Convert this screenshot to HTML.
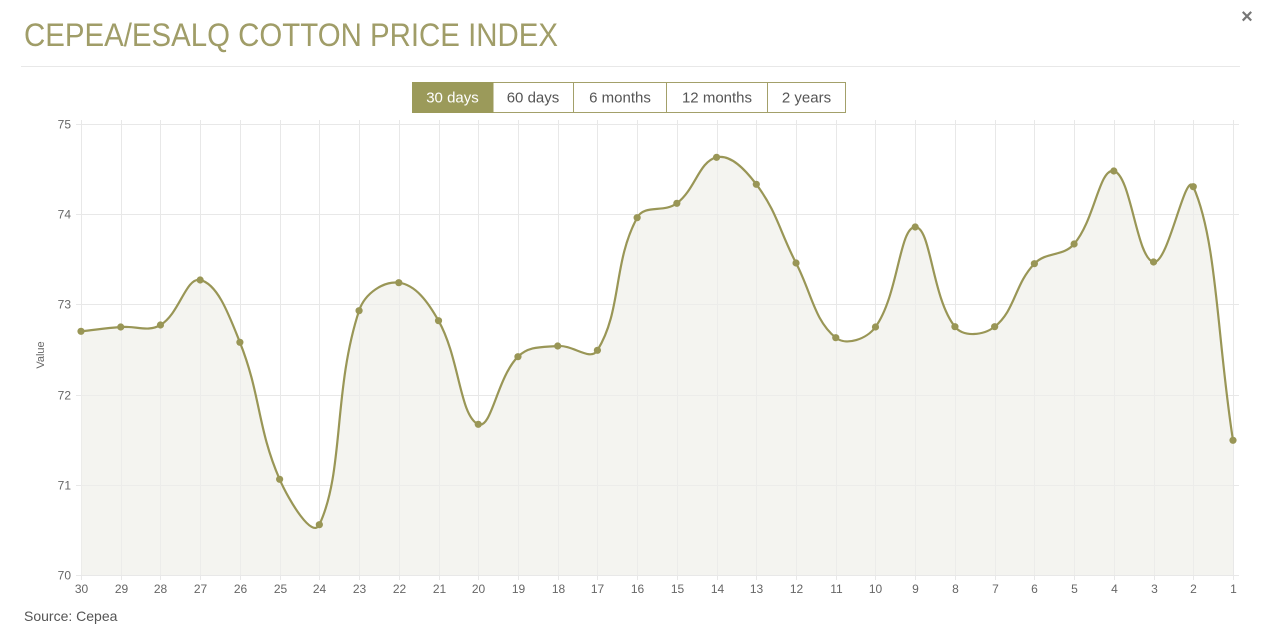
<!DOCTYPE html>
<html><head><meta charset="utf-8">
<style>
html,body{margin:0;padding:0;background:#fff;}
body{width:1263px;height:638px;overflow:hidden;position:relative;font-family:"Liberation Sans",Arial,sans-serif;}
svg{position:absolute;left:0;top:0;}
</style></head>
<body>
<svg id="c" width="1263" height="638" viewBox="0 0 1263 638" xmlns="http://www.w3.org/2000/svg" font-family="Liberation Sans, Arial, sans-serif">
  <text x="24" y="46" font-size="32" fill="#a09d68" textLength="534" lengthAdjust="spacingAndGlyphs">CEPEA/ESALQ COTTON PRICE INDEX</text>
  <line x1="21" y1="66.5" x2="1240" y2="66.5" stroke="#e8e8e8" stroke-width="1"/>
  <text x="1247" y="23" font-size="20" font-weight="bold" fill="#777" text-anchor="middle">×</text>

  <!-- buttons -->
  <g font-size="15" text-anchor="middle">
    <rect x="412.5" y="82.5" width="433" height="30" fill="#fff" stroke="#a3a06a"/>
    <rect x="412.5" y="82.5" width="80.5" height="30" fill="#9b9a5a" stroke="#9b9a5a"/>
    <line x1="573.5" y1="82.5" x2="573.5" y2="112.5" stroke="#a3a06a"/>
    <line x1="666.5" y1="82.5" x2="666.5" y2="112.5" stroke="#a3a06a"/>
    <line x1="767.5" y1="82.5" x2="767.5" y2="112.5" stroke="#a3a06a"/>
    <text x="452.5" y="102.5" fill="#fff">30 days</text>
    <text x="533" y="102.5" fill="#555">60 days</text>
    <text x="620" y="102.5" fill="#555">6 months</text>
    <text x="717" y="102.5" fill="#555">12 months</text>
    <text x="806.5" y="102.5" fill="#555">2 years</text>
  </g>

  <g id="grid" stroke="#ebebeb" stroke-width="1"></g>
  <path id="fill" fill="#f4f4f0" stroke="none"/>
  <g id="grid2" stroke="#e6e6e6" stroke-width="1" opacity="0.55"></g>
  <path id="line" fill="none" stroke="#999656" stroke-width="2.2"/>
  <g id="pts" fill="#999656"></g>

  <g id="ylab" font-size="12" fill="#666" text-anchor="end"></g>
  <g id="xlab" font-size="12" fill="#666" text-anchor="middle"></g>
  <text x="0" y="0" font-size="11" fill="#666" text-anchor="middle" transform="translate(44,355) rotate(-90)">Value</text>

  <text x="24" y="621" font-size="14" fill="#555">Source: Cepea</text>
</svg>
<script>
(function(){
var NS="http://www.w3.org/2000/svg";
function el(t,a,p){var e=document.createElementNS(NS,t);for(var k in a)e.setAttribute(k,a[k]);if(p)p.appendChild(e);return e;}
var L=81,R=1233,T=124,B=575,n=30,dx=(R-L)/29,dy=(B-T)/5;
var grid=document.getElementById('grid'),grid2=document.getElementById('grid2');
var ylab=document.getElementById('ylab'),xlab=document.getElementById('xlab');
for(var i=0;i<=5;i++){
  var y=Math.round(T+i*dy)+0.5;
  el('line',{x1:76,y1:y,x2:1239,y2:y},grid);
  el('line',{x1:76,y1:y,x2:1239,y2:y},grid2);
  var t=el('text',{x:71,y:y+4},ylab);t.textContent=String(75-i);
}
for(var i=0;i<n;i++){
  var x=Math.round(L+i*dx)+0.5;
  el('line',{x1:x,y1:120,x2:x,y2:580},grid);
  el('line',{x1:x,y1:120,x2:x,y2:580},grid2);
  var t=el('text',{x:x,y:593},xlab);t.textContent=String(30-i);
}
var ys=[331.3,327,325,280,342.3,479.3,524.7,310.7,282.7,320.7,424.3,356.7,346,350.3,217.7,203.3,157.3,184.3,263,337.7,327,227,326.7,326.7,263.7,244,171,262,186.7,440.3];
var p=ys.map(function(y,i){return {x:L+i*dx,y:y};});
var tension=0.4,cp=[];
for(var i=0;i<p.length;i++){
  var a=p[i-1]||p[i],b=p[i],c=p[i+1]||p[i];
  var d01=Math.hypot(b.x-a.x,b.y-a.y),d12=Math.hypot(c.x-b.x,c.y-b.y);
  var s01=d01/(d01+d12),s12=d12/(d01+d12);
  if(isNaN(s01))s01=0;if(isNaN(s12))s12=0;
  var fa=tension*s01,fb=tension*s12;
  var pv={x:b.x-fa*(c.x-a.x),y:b.y-fa*(c.y-a.y)},nx={x:b.x+fb*(c.x-a.x),y:b.y+fb*(c.y-a.y)};
  [pv,nx].forEach(function(q){q.x=Math.max(L,Math.min(R,q.x));q.y=Math.max(T,Math.min(B,q.y));});
  cp.push({p:pv,n:nx});
}
var d="M"+p[0].x.toFixed(2)+","+p[0].y.toFixed(2);
for(var i=1;i<p.length;i++){
  d+=" C"+cp[i-1].n.x.toFixed(2)+","+cp[i-1].n.y.toFixed(2)+" "+cp[i].p.x.toFixed(2)+","+cp[i].p.y.toFixed(2)+" "+p[i].x.toFixed(2)+","+p[i].y.toFixed(2);
}
document.getElementById('line').setAttribute('d',d);
document.getElementById('fill').setAttribute('d',d+" L"+R+","+B+" L"+L+","+B+" Z");
var pts=document.getElementById('pts');
p.forEach(function(q){el('circle',{cx:q.x,cy:q.y,r:3.6},pts);});
})();
</script>
</body></html>
